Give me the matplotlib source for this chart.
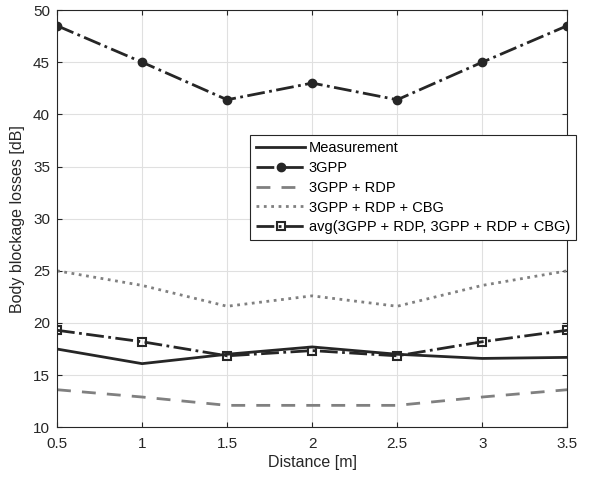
import matplotlib
matplotlib.use('Agg')
import matplotlib.pyplot as plt

distance = [0.5, 1, 1.5, 2, 2.5, 3, 3.5]
measurement = [17.5, 16.1, 17.0, 17.7, 17.0, 16.6, 16.7]
gpp = [48.5, 45.0, 41.4, 43.0, 41.4, 45.0, 48.5]
gpp_rdp = [13.6, 12.9, 12.1, 12.1, 12.1, 12.9, 13.6]
gpp_rdp_cbg = [25.0, 23.6, 21.6, 22.6, 21.6, 23.6, 25.0]
avg_vals = [19.3, 18.2, 16.85, 17.35, 16.85, 18.2, 19.3]

plt.rcParams['font.family'] = ['Liberation Sans', 'DejaVu Sans']

fig = plt.figure(figsize=(5.94, 4.79), dpi=100)
ax = fig.add_axes([0.096, 0.108, 0.859, 0.871])

dark = '#262626'
gray = '#808080'

ax.plot(distance, measurement, '-', color=dark, linewidth=2, label='Measurement')
ax.plot(distance, gpp, '-.', color=dark, linewidth=2, marker='o', markersize=6,
        label='3GPP')
ax.plot(distance, gpp_rdp, '--', color=gray, linewidth=2, dashes=(5, 4), label='3GPP + RDP')
ax.plot(distance, gpp_rdp_cbg, ':', color=gray, linewidth=2, label='3GPP + RDP + CBG')
ax.plot(distance, avg_vals, '-.', color=dark, linewidth=2, marker='s', markersize=6,
        markerfacecolor='none', markeredgewidth=1.5,
        label='avg(3GPP + RDP, 3GPP + RDP + CBG)')

ax.set_xlim(0.5, 3.5)
ax.set_ylim(10, 50)
ax.set_xticks(distance)
ax.set_xticklabels(['0.5', '1', '1.5', '2', '2.5', '3', '3.5'])
ax.set_yticks(range(10, 51, 5))
ax.grid(True, color='#e0e0e0', linewidth=0.8)
ax.set_axisbelow(True)
ax.tick_params(direction='in', labelsize=11, top=True, right=True, colors=dark)
ax.tick_params(axis='x', pad=7)
ax.tick_params(axis='y', pad=5)
for s in ax.spines.values():
    s.set_color(dark)
    s.set_linewidth(0.8)

ax.set_xlabel('Distance [m]', fontsize=11.5, color=dark, labelpad=3)
ax.set_ylabel('Body blockage losses [dB]', fontsize=11.5, color=dark, labelpad=6)

leg = ax.legend(loc='upper left', bbox_to_anchor=(0.378, 0.700), fontsize=10.5,
                fancybox=False, edgecolor=dark, framealpha=1, borderpad=0.4,
                labelspacing=0.4, handlelength=3.4, handletextpad=0.25,
                borderaxespad=0)
leg.get_frame().set_linewidth(0.8)

fig.savefig('out.png', dpi=100)
